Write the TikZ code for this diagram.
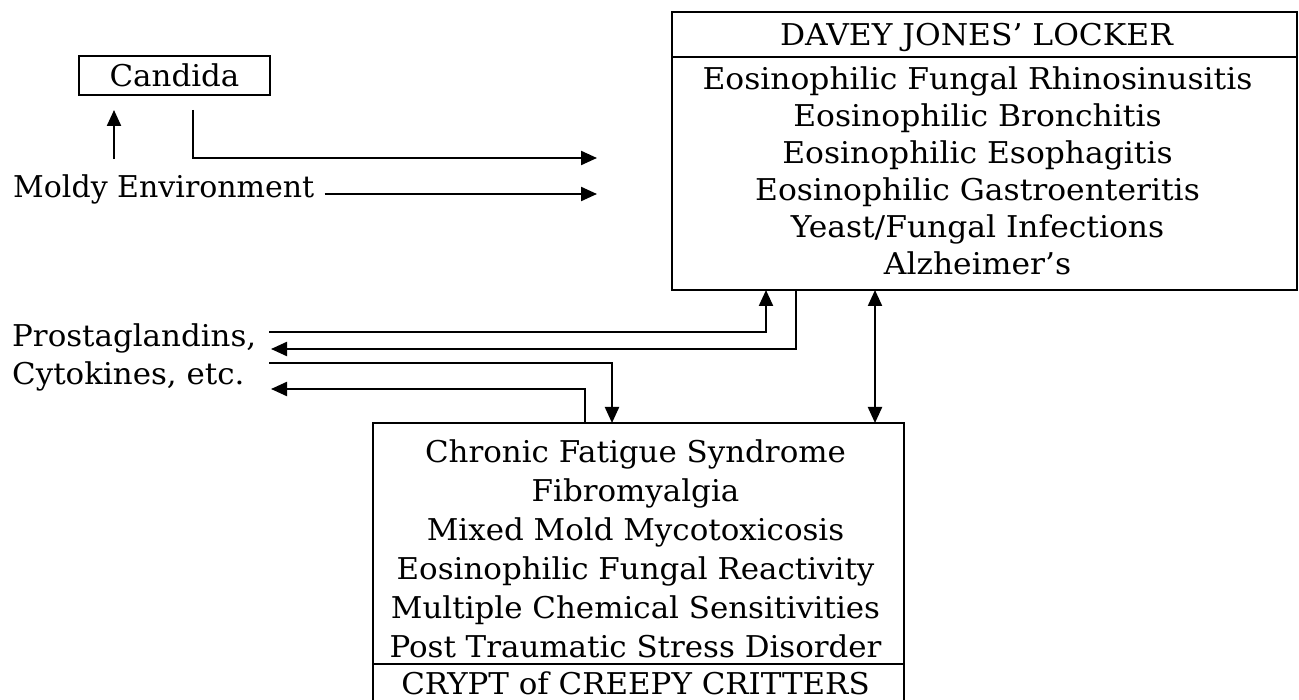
\documentclass[tikz,border=0pt]{standalone}
\usepackage{fontspec}
\setmainfont{DejaVu Serif}[FakeStretch=1.03]
\newfontfamily\plainserif{DejaVu Serif}
\newfontfamily\wideserif{DejaVu Serif}[FakeStretch=1.045]
\usepackage{tikz}
\usetikzlibrary{arrows.meta}
\usetikzlibrary{calc}
\usetikzlibrary{positioning}

\newcommand{\boxfont}{\fontsize{30}{37.7}\selectfont}

\begin{document}
\begin{tikzpicture}[x=1pt,y=-1pt,every node/.style={font=\boxfont},
  box/.style={draw,line width=1.8pt,inner sep=0pt,outer sep=0pt},
  label/.style={inner sep=0pt,align=center},
  conn/.style={line width=2.2pt},
  arr/.style={conn,-{Triangle[length=16pt,width=14pt]}},
  darr/.style={conn,{Triangle[length=16pt,width=14pt]}-{Triangle[length=16pt,width=14pt]}}]

  \useasboundingbox (0,0) rectangle (1299,700);

  % sources on the left
  \node[box,minimum width=191,minimum height=39] (candida) at (174.5,75.5) {Candida};
  \node[label,anchor=base west,font=\boxfont\plainserif] (moldy) at (13,198) {Moldy Environment};
  \node[label,anchor=base west] (prosta) at (12,347) {Prostaglandins,};
  \node[label,anchor=base west] (cyto) at (12,385) {Cytokines, etc.};

  % davey jones' locker
  \node[box,anchor=north west,minimum width=625,minimum height=45] (daveyhead) at (672,12) {};
  \node[box,anchor=north west,minimum width=625,minimum height=233] (daveybody) at (daveyhead.south west) {};
  \node[label,font=\boxfont\wideserif] (daveytitle) at ($(daveyhead.center)+(-8,3)$) {DAVEY JONES’ LOCKER};
  \node[label,font=\fontsize{30}{37}\selectfont\wideserif] (daveylist) at ($(daveybody.center)+(-7,-3)$)
    {Eosinophilic Fungal Rhinosinusitis\\ Eosinophilic Bronchitis\\ Eosinophilic Esophagitis\\
     Eosinophilic Gastroenteritis\\ Yeast/Fungal Infections\\ Alzheimer’s};

  % crypt of creepy critters
  \node[box,anchor=north west,minimum width=531,minimum height=241] (cryptbody) at (373,423) {};
  \node[box,anchor=north west,minimum width=531,minimum height=50] (crypthead) at (cryptbody.south west) {};
  \node[label,font=\fontsize{30}{39}\selectfont] (cryptlist) at ($(cryptbody.center)+(-3,5)$)
    {Chronic Fatigue Syndrome\\ Fibromyalgia\\ Mixed Mold Mycotoxicosis\\
     Eosinophilic Fungal Reactivity\\ Multiple Chemical Sensitivities\\ Post Traumatic Stress Disorder};
  \node[label] (crypttitle) at (cryptlist.south |- 0,683) {CRYPT of CREEPY CRITTERS};

  % free ends
  \coordinate (in1) at (597,158);
  \coordinate (in2) at (597,194);
  \coordinate (p1) at (269,332);
  \coordinate (p2) at (271,349);
  \coordinate (p3) at (269,363);
  \coordinate (p4) at (271,389);

  % candida / moldy
  \coordinate (cup) at ($(candida.south west)+(35,0)$);
  \draw[arr,shorten <=16pt,shorten >=15pt] (cup |- moldy.north) -- (cup);
  \draw[arr] ($(candida.south west)+(114,15)$) |- (in1);
  \draw[arr,shorten <=10pt] (moldy.east |- in2) -- (in2);

  % prostaglandins, cytokines
  \draw[arr] (p1) -| ($(daveybody.south west)+(94,0)$);
  \draw[arr] ($(daveybody.south west)+(124,0)$) |- (p2);
  \draw[arr] (p3) -| ($(cryptbody.north west)+(239,0)$);
  \draw[arr] ($(cryptbody.north west)+(212,0)$) |- (p4);

  % locker <-> crypt
  \draw[darr] ($(daveybody.south west)+(203,0)$) coordinate (dd) -- (dd |- cryptbody.north);

\end{tikzpicture}
\end{document}
